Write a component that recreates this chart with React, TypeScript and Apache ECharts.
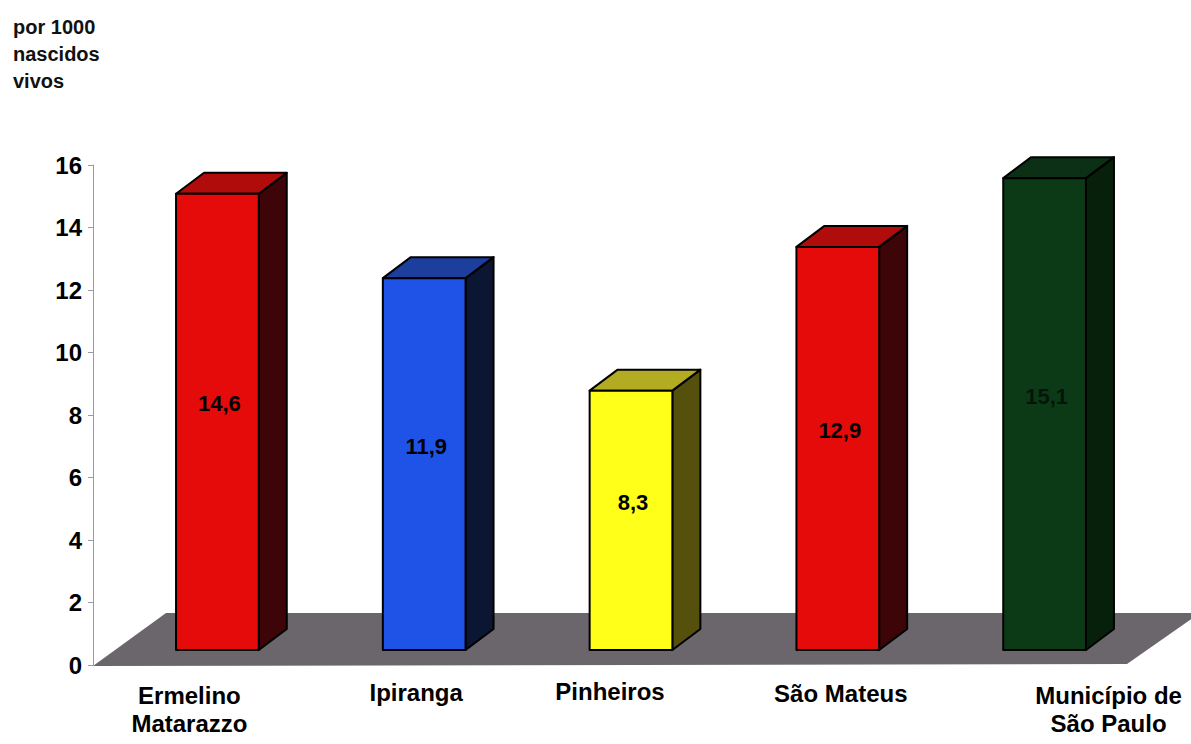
import React, { useEffect, useRef } from "react";
import * as echarts from "echarts";

// Infant mortality per 1000 live births, by district
const categories = [
  "Ermelino\nMatarazzo",
  "Ipiranga",
  "Pinheiros",
  "São Mateus",
  "Município de\nSão Paulo",
];
const rates = [14.6, 11.9, 8.3, 12.9, 15.1];
const unitLines = ["por 1000", "nascidos", "vivos"];

// Face colours of each box: front, top, right side
const palette = [
  { front: "#e60b0b", top: "#b00c0c", side: "#3d0508", label: "#000000" },
  { front: "#1f52e6", top: "#1c3f9e", side: "#0b1633", label: "#000000" },
  { front: "#ffff1a", top: "#b3ab22", side: "#55500c", label: "#000000" },
  { front: "#e60b0b", top: "#b00c0c", side: "#3d0508", label: "#000000" },
  { front: "#0c3a17", top: "#0b3015", side: "#06200c", label: "#04160a" },
];

// Nudges for the category labels (px)
const labelShiftX = [-7, 13, 0, 24, 85];
const labelShiftY = [9, 2, 0, 5, 9];

const FONT = "'Liberation Sans', Arial, Helvetica, sans-serif";
const FLOOR_DX = 73;
const FLOOR_DY = -52;
const FRONT_DX = 21;
const FRONT_DY = -15;
const DEPTH_DX = 28;
const DEPTH_DY = -21;

const fmt = (v: number) => v.toFixed(1).replace(".", ",");

export default function App() {
  const ref = useRef<HTMLDivElement>(null);

  useEffect(() => {
    if (!ref.current) return;
    const chart = echarts.init(ref.current, null, { renderer: "svg" });

    const rich: Record<string, any> = {};
    labelShiftX.forEach((dx, i) => {
      const left = Math.max(0, dx * 2);
      const right = Math.max(0, -dx * 2);
      const base = {
        fontFamily: FONT,
        fontWeight: "bold",
        fontSize: 24,
        lineHeight: 32,
        color: "#000",
      };
      rich["a" + i] = { ...base, padding: [labelShiftY[i], right, 0, left] };
      rich["b" + i] = { ...base, padding: [0, right, 0, left] };
    });

    chart.setOption({
      animation: false,
      backgroundColor: "#ffffff",
      title: {
        text: unitLines.join("\n"),
        left: 13,
        top: 13,
        padding: 0,
        textStyle: {
          fontFamily: FONT,
          fontWeight: "bold",
          fontSize: 20,
          lineHeight: 27,
          color: "#111",
        },
      },
      grid: { left: 93, right: 64, top: 165, bottom: 79 },
      xAxis: {
        type: "category",
        data: categories,
        axisLine: { show: false },
        axisTick: { show: false },
        axisLabel: {
          interval: 0,
          margin: 10,
          formatter: (value: string, idx: number) =>
            value
              .split("\n")
              .map((line, k) => `{${k === 0 ? "a" : "b"}${idx}|${line}}`)
              .join("\n"),
          rich,
        },
      },
      yAxis: {
        type: "value",
        min: 0,
        max: 16,
        interval: 2,
        axisLine: { show: true, lineStyle: { color: "#9a9aa6", width: 1 } },
        axisTick: { show: true, length: 5, lineStyle: { color: "#9a9aa6" } },
        splitLine: { show: false },
        axisLabel: {
          margin: 11,
          fontFamily: FONT,
          fontWeight: "bold",
          fontSize: 24,
          color: "#000",
        },
      },
      series: [
        {
          // grey floor under the boxes
          type: "custom",
          z: 1,
          clip: false,
          data: [[0, 0]],
          silent: true,
          renderItem: (params: any) => {
            const cs = params.coordSys;
            const y0 = cs.y + cs.height;
            return {
              type: "polygon",
              shape: {
                points: [
                  [cs.x, y0 + 1],
                  [cs.x + cs.width, y0 - 1],
                  [cs.x + cs.width + FLOOR_DX, y0 + FLOOR_DY],
                  [cs.x + FLOOR_DX, y0 + FLOOR_DY],
                ],
              },
              style: { fill: "#6a666b", stroke: "none" },
            };
          },
        },
        {
          // 3D boxes with value labels
          type: "custom",
          z: 3,
          clip: false,
          data: rates.map((v, i) => [i, v]),
          renderItem: (params: any, api: any) => {
            const i = api.value(0);
            const v = api.value(1);
            const base = api.coord([i, 0]);
            const top = api.coord([i, v]);
            const bw = api.size([1, 0])[0] * 0.4;
            const cx = base[0] + FRONT_DX;
            const by = base[1] + FRONT_DY;
            const ty = top[1] + FRONT_DY;
            const L = cx - bw / 2;
            const R = cx + bw / 2;
            const p = palette[i];
            const edge = { stroke: "#000", lineWidth: 2, lineJoin: "round" };
            return {
              type: "group",
              children: [
                {
                  type: "polygon",
                  shape: {
                    points: [
                      [R, ty],
                      [R + DEPTH_DX, ty + DEPTH_DY],
                      [R + DEPTH_DX, by + DEPTH_DY],
                      [R, by],
                    ],
                  },
                  style: { fill: p.side, ...edge },
                },
                {
                  type: "polygon",
                  shape: {
                    points: [
                      [L, ty],
                      [L + DEPTH_DX, ty + DEPTH_DY],
                      [R + DEPTH_DX, ty + DEPTH_DY],
                      [R, ty],
                    ],
                  },
                  style: { fill: p.top, ...edge },
                },
                {
                  type: "rect",
                  shape: { x: L, y: ty, width: bw, height: by - ty },
                  style: { fill: p.front, ...edge },
                },
                {
                  type: "text",
                  style: {
                    text: fmt(v),
                    x: cx + 2,
                    y: (ty + by) / 2 - 18,
                    align: "center",
                    verticalAlign: "middle",
                    fontFamily: FONT,
                    fontWeight: "bold",
                    fontSize: 22,
                    fill: p.label,
                  },
                },
              ],
            };
          },
        },
      ],
    });

    return () => chart.dispose();
  }, []);

  return (
    <div
      ref={ref}
      style={{
        position: "fixed",
        left: 0,
        top: 0,
        width: 1191,
        height: 744,
        background: "#fff",
      }}
    />
  );
}
